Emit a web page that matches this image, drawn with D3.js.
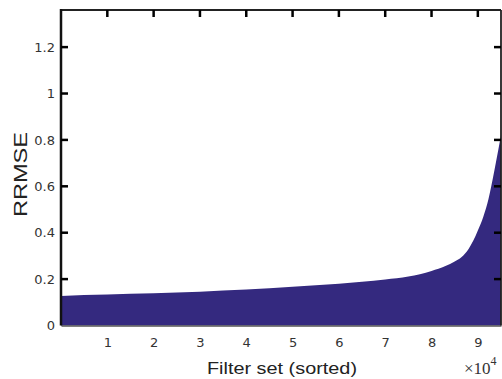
<!DOCTYPE html>
<html>
<head>
<meta charset="utf-8">
<script src="https://cdn.jsdelivr.net/npm/d3@7/dist/d3.min.js"></script>
<style>
  html, body { margin: 0; padding: 0; background: #fff; }
  svg { display: block; }
</style>
</head>
<body>
<svg id="chart" width="502" height="379"></svg>
<script>
// Data (x in units of 10^4 filter sets)
const filterSet = [0, 0.5, 1, 2, 3, 4, 5, 6, 7, 7.5, 8, 8.3, 8.5, 8.65, 8.8, 8.9, 9.0, 9.12, 9.23, 9.33, 9.44, 9.5];
const rrmse     = [0.127, 0.131, 0.134, 0.139, 0.146, 0.155, 0.167, 0.180, 0.198, 0.211, 0.235, 0.256, 0.276, 0.295, 0.33, 0.365, 0.41, 0.47, 0.545, 0.64, 0.755, 0.82];
const xTicks = [1, 2, 3, 4, 5, 6, 7, 8, 9];
const yTicks = [0, 0.2, 0.4, 0.6, 0.8, 1, 1.2];
const xLabel = "Filter set (sorted)";
const yLabel = "RRMSE";

const svg = d3.select("#chart");
const m = { left: 61, top: 10, right: 501, bottom: 325.5 };

const x = d3.scaleLinear().domain([0, 9.5]).range([m.left, m.right]);
const y = d3.scaleLinear().domain([0, 1.36]).range([m.bottom, m.top]);

const data = filterSet.map((d, i) => ({ x: d, y: rrmse[i] }));

// filled area
const area = d3.area()
  .x(d => x(d.x))
  .y0(y(0))
  .y1(d => y(d.y))
  .curve(d3.curveMonotoneX);

svg.append("path")
  .datum(data)
  .attr("d", area)
  .attr("fill", "#34297f");

const tickFont = "'DejaVu Sans', 'Open Sans', sans-serif";
const tickLen = 7;

// bottom axis (line + labels)
const gBottom = svg.append("g").attr("transform", `translate(0,${m.bottom})`)
  .call(d3.axisBottom(x).tickValues(xTicks).tickSize(0).tickPadding(12).tickFormat(d3.format("d")));
gBottom.select(".domain").attr("stroke", "#555").attr("stroke-width", 1.5);
gBottom.selectAll("text").attr("font-family", tickFont).attr("font-size", 13).attr("fill", "#333");

// left tick labels
const gLeftLabels = svg.append("g").attr("transform", `translate(${m.left},0)`)
  .call(d3.axisLeft(y).tickValues(yTicks).tickSize(0).tickPadding(6).tickFormat(d3.format("")));
gLeftLabels.select(".domain").remove();
gLeftLabels.selectAll("text").attr("font-family", tickFont).attr("font-size", 13).attr("fill", "#333");

// frame lines
svg.append("line").attr("x1", m.left).attr("x2", m.right).attr("y1", m.top).attr("y2", m.top)
  .attr("stroke", "#222").attr("stroke-width", 1.8);
svg.append("line").attr("x1", m.right).attr("x2", m.right).attr("y1", m.top).attr("y2", m.bottom)
  .attr("stroke", "#222").attr("stroke-width", 1.8);
svg.append("line").attr("x1", m.left).attr("x2", m.left).attr("y1", m.top - 1).attr("y2", m.bottom)
  .attr("stroke", "#111").attr("stroke-width", 2.5);

// top ticks (inward)
svg.append("g").selectAll("line").data(xTicks).join("line")
  .attr("x1", d => x(d)).attr("x2", d => x(d))
  .attr("y1", m.top).attr("y2", m.top + tickLen)
  .attr("stroke", "#000").attr("stroke-width", 2.5);

// left ticks (inward)
svg.append("g").selectAll("line").data(yTicks.filter(d => d > 0)).join("line")
  .attr("x1", m.left).attr("x2", m.left + tickLen)
  .attr("y1", d => y(d)).attr("y2", d => y(d))
  .attr("stroke", "#000").attr("stroke-width", 2.5);

// right ticks (inward)
svg.append("g").selectAll("line").data(yTicks.filter(d => d > 0)).join("line")
  .attr("x1", m.right).attr("x2", m.right - tickLen)
  .attr("y1", d => y(d)).attr("y2", d => y(d))
  .attr("stroke", "#000").attr("stroke-width", 2.5);

// axis titles
svg.append("text")
  .attr("x", 207).attr("y", 374)
  .attr("font-family", "'Liberation Sans', Arial, sans-serif")
  .attr("font-size", 17)
  .attr("textLength", 150).attr("lengthAdjust", "spacingAndGlyphs")
  .attr("fill", "#222")
  .text(xLabel);

svg.append("text")
  .attr("transform", "translate(27,217) rotate(-90)")
  .attr("font-family", "'Liberation Sans', Arial, sans-serif")
  .attr("font-size", 18)
  .attr("textLength", 85).attr("lengthAdjust", "spacingAndGlyphs")
  .attr("fill", "#222")
  .text(yLabel);

// exponent label
const expLabel = svg.append("text")
  .attr("x", 464).attr("y", 374)
  .attr("font-family", "'Liberation Serif', 'Times New Roman', serif")
  .attr("font-size", 17)
  .attr("fill", "#333");
expLabel.append("tspan").text("\u00d710");
expLabel.append("tspan").attr("dy", -9).attr("font-size", 12).text("4");
</script>
</body>
</html>
